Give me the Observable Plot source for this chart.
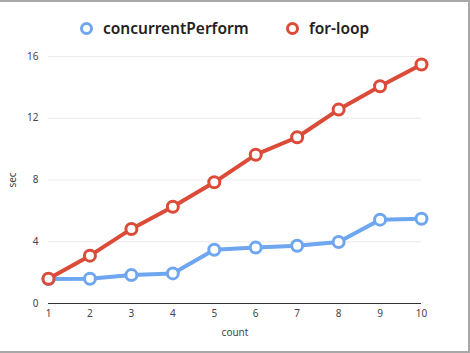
<!DOCTYPE html>
<html>
<head>
<meta charset="utf-8">
<script src="https://cdn.jsdelivr.net/npm/d3@7"></script>
<script src="https://cdn.jsdelivr.net/npm/@observablehq/plot@0.6"></script>
<style>
  html, body { margin: 0; padding: 0; background: #fff; }
  #frame { position: relative; width: 470px; height: 353px; box-sizing: border-box;
    border-top: 2px solid #a8a8a8; border-right: 2px solid #a8a8a8; border-bottom: 2px solid #a8a8a8; overflow: hidden; }
  #legend { position: absolute; left: 0; top: 0; width: 470px; height: 45px; font-family: "Noto Sans", sans-serif;
    font-weight: 600; font-size: 15.5px; color: #222; }
  .item { position: absolute; top: 15px; display: flex; align-items: center; gap: 10px; }
  .sw { display: inline-block; width: 7px; height: 7px; border-radius: 50%; border: 3px solid; background: #fff; }
  #chart { position: absolute; left: 0; top: 43px; }
</style>
</head>
<body>
<div id="frame">
  <div id="legend"></div>
  <div id="chart"></div>
</div>
<script>
const counts = [1, 2, 3, 4, 5, 6, 7, 8, 9, 10];
const concurrentPerform = [1.58, 1.6, 1.84, 1.95, 3.48, 3.62, 3.74, 3.98, 5.43, 5.49];
const forLoop = [1.6, 3.1, 4.83, 6.27, 7.85, 9.64, 10.77, 12.56, 14.07, 15.48];
const seriesNames = ["concurrentPerform", "for-loop"];
const seriesColors = ["#6ea6f0", "#dc4a38"];
const yTicks = [0, 4, 8, 12, 16];

const data = [];
counts.forEach((c, i) => {
  data.push({count: c, sec: concurrentPerform[i], series: seriesNames[0]});
  data.push({count: c, sec: forLoop[i], series: seriesNames[1]});
});

const legend = document.getElementById("legend");
const lefts = [80, 286];
seriesNames.forEach((n, i) => {
  const d = document.createElement("div");
  d.className = "item";
  d.style.left = lefts[i] + "px";
  const sw = document.createElement("span");
  sw.className = "sw";
  sw.style.borderColor = seriesColors[i];
  const t = document.createElement("span");
  t.textContent = n;
  d.appendChild(sw); d.appendChild(t);
  legend.appendChild(d);
});

const plot = Plot.plot({
  width: 468,
  height: 308,
  marginTop: 11,
  marginBottom: 50,
  marginLeft: 48,
  marginRight: 47,
  style: {fontFamily: "Noto Sans, sans-serif", fontSize: "10px", color: "#444", background: "transparent"},
  x: {domain: [1, 10], ticks: counts, tickSize: 0, tickPadding: 6, tickFormat: d3.format("d"), label: "count", labelAnchor: "center", labelArrow: "none", labelOffset: 32},
  y: {domain: [0, 16], ticks: yTicks, tickSize: 0, tickPadding: 10, label: "sec", labelAnchor: "center", labelArrow: "none", labelOffset: 40},
  color: {domain: seriesNames, range: seriesColors},
  marks: [
    Plot.ruleY(yTicks.filter(t => t > 0), {stroke: "#ebebeb", strokeWidth: 1}),
    Plot.ruleY([0], {stroke: "#333", strokeWidth: 1.2}),
    Plot.line(data, {x: "count", y: "sec", z: "series", stroke: "series", strokeWidth: 4, strokeLinejoin: "round", strokeLinecap: "round"}),
    Plot.dot(data, {x: "count", y: "sec", stroke: "series", fill: "white", r: 5.5, strokeWidth: 3})
  ]
});
document.getElementById("chart").appendChild(plot);
</script>
</body>
</html>
